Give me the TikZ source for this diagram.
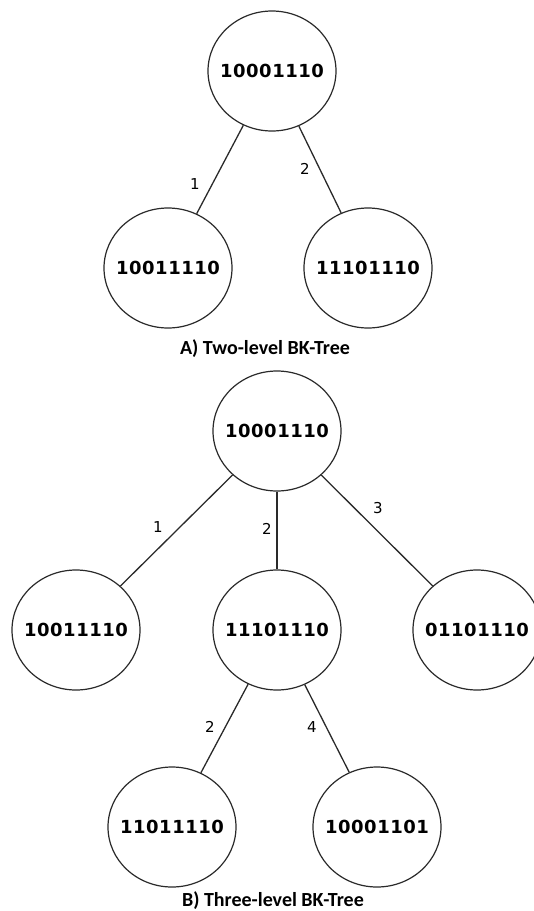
\documentclass[tikz,border=0pt]{standalone}
\usepackage{fontspec}
\usetikzlibrary{shapes.geometric}
\newfontfamily\nodefont{DejaVu Sans}
\newfontfamily\nodefontsp[LetterSpace=3]{DejaVu Sans}
\newfontfamily\capfont{Carlito}
\newcommand\zw[1]{\makebox[0pt][c]{#1}}
\definecolor{linegray}{HTML}{2A2A2A}
\begin{document}
\begin{tikzpicture}[x=1pt,y=-1pt,
  bk/.style={ellipse, draw=linegray, line width=1.2pt, minimum width=128pt, minimum height=120pt, inner sep=0pt, font=\nodefontsp\bfseries\fontsize{18}{20}\selectfont},
  conn/.style={draw=linegray, line width=1.3pt},
  wt/.style={font=\nodefont\fontsize{15}{17}\selectfont, inner sep=0pt},
  captext/.style={font=\capfont\bfseries\fontsize{20}{22}\selectfont, inner sep=0pt}]
\useasboundingbox (0,0) rectangle (534,911);
% A) two-level
\node[bk] (a0) at (272,71) {\zw{10001110}};
\node[bk] (a1) at (168,268) {\zw{10011110}};
\node[bk] (a2) at (368,268) {\zw{11101110}};
\draw[conn] (a0) -- (a1);
\draw[conn] (a0) -- (a2);
\node[wt] (la1) at (195,184) {1};
\node[wt] (la2) at (305,169) {2};
\node[captext] (capA) at (265,349) {A) Two-level BK-Tree};
% B) three-level
\node[bk] (b0) at (277,431) {\zw{10001110}};
\node[bk] (b1) at (76,630) {\zw{10011110}};
\node[bk] (b2) at (277,630) {\zw{11101110}};
\node[bk] (b3) at (477,630) {\zw{01101110}};
\node[bk] (b4) at (172,827) {\zw{11011110}};
\node[bk] (b5) at (377,827) {\zw{10001101}};
\draw[conn] (b0) -- (b1);
\draw[conn] (b0) -- (b2);
\draw[conn] (b0) -- (b3);
\draw[conn] (b2) -- (b4);
\draw[conn] (b2) -- (b5);
\node[wt] (lb1) at (158,527) {1};
\node[wt] (lb2) at (267,529) {2};
\node[wt] (lb3) at (378,508) {3};
\node[wt] (lb4) at (210,727) {2};
\node[wt] (lb5) at (312,727) {4};
\node[captext] (capB) at (273,901) {B) Three-level BK-Tree};
\end{tikzpicture}
\end{document}
